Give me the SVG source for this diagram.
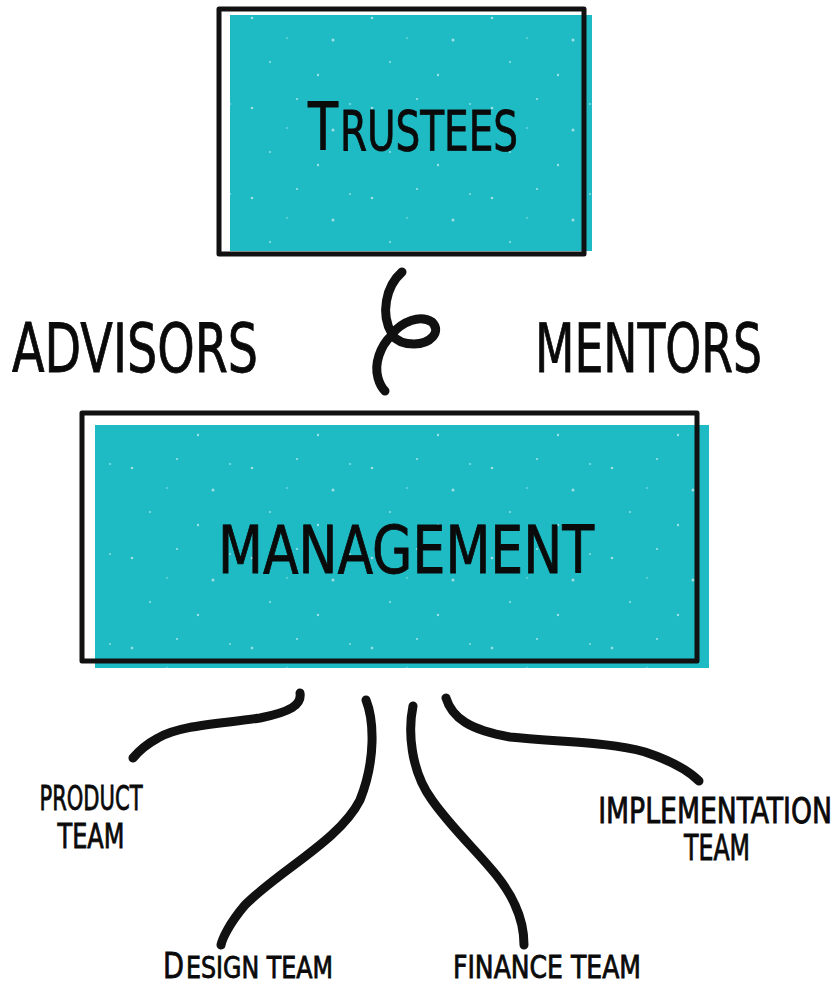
<svg xmlns="http://www.w3.org/2000/svg" width="839" height="986" viewBox="0 0 839 986">
<style>
.fill{fill:#1fbbc4}
.outline{fill:none;stroke:#111;stroke-width:5;stroke-linejoin:round}
.txt{font-family:"DejaVu Sans Condensed","Liberation Sans Narrow","Liberation Sans",sans-serif;fill:#0a0a0a;stroke:#0a0a0a;stroke-width:0.8}
.link{fill:none;stroke:#111;stroke-width:9;stroke-linecap:round}
.speck{fill:#fff;opacity:0.55}
</style>
<defs>
<pattern id="specks" width="120" height="90" patternUnits="userSpaceOnUse">
<circle class="speck" cx="12" cy="18" r="1.3"/>
<circle class="speck" cx="57" cy="9" r="1.1"/>
<circle class="speck" cx="93" cy="40" r="1.5"/>
<circle class="speck" cx="30" cy="62" r="1"/>
<circle class="speck" cx="78" cy="75" r="1.2"/>
<circle class="speck" cx="110" cy="14" r="0.9"/>
<circle class="speck" cx="47" cy="38" r="0.8"/>
</pattern>
</defs>
<rect width="839" height="986" fill="#fff"/>
<g id="trustees">
<rect class="fill" x="230" y="15" width="362" height="236"/>
<rect fill="url(#specks)" x="230" y="15" width="362" height="236"/>
<rect class="outline" x="219" y="9" width="365" height="245"/>
<text class="txt" x="308" y="150" font-size="66" textLength="30" lengthAdjust="spacingAndGlyphs">T</text>
<text class="txt" x="340" y="150" font-size="55" textLength="178" lengthAdjust="spacingAndGlyphs">RUSTEES</text>
</g>
<g id="advisors">
<text class="txt" x="12" y="372" font-size="68" textLength="246" lengthAdjust="spacingAndGlyphs">ADVISORS</text>
</g>
<g id="mentors">
<text class="txt" x="535" y="372" font-size="68" textLength="227" lengthAdjust="spacingAndGlyphs">MENTORS</text>
</g>
<g id="management">
<rect class="fill" x="95" y="425" width="614" height="243"/>
<rect fill="url(#specks)" x="95" y="425" width="614" height="243"/>
<rect class="outline" x="82" y="413" width="615" height="248"/>
<text class="txt" x="218" y="573" font-size="66" textLength="376" lengthAdjust="spacingAndGlyphs">MANAGEMENT</text>
</g>
<g id="product-team">
<text class="txt" x="91" y="810" font-size="34" text-anchor="middle" textLength="103" lengthAdjust="spacingAndGlyphs">PRODUCT</text>
<text class="txt" x="91" y="848" font-size="34" text-anchor="middle" textLength="67" lengthAdjust="spacingAndGlyphs">TEAM</text>
</g>
<g id="implementation-team">
<text class="txt" transform="translate(715,823) scale(0.82,1)" x="0" y="0" font-size="35" text-anchor="middle" textLength="285" lengthAdjust="spacingAndGlyphs">IMPLEMENTATION</text>
<text class="txt" x="717" y="860" font-size="35" text-anchor="middle" textLength="66" lengthAdjust="spacingAndGlyphs">TEAM</text>
</g>
<g id="design-team">
<text class="txt" transform="translate(163,978) scale(0.7,1)" x="0" y="0" font-size="36" textLength="30" lengthAdjust="spacingAndGlyphs">D</text>
<text class="txt" transform="translate(186,978) scale(0.7,1)" x="0" y="0" font-size="31" textLength="210" lengthAdjust="spacingAndGlyphs">ESIGN TEAM</text>
</g>
<g id="finance-team">
<text class="txt" transform="translate(453,978) scale(0.8,1)" x="0" y="0" font-size="32" textLength="235" lengthAdjust="spacingAndGlyphs">FINANCE TEAM</text>
</g>
<g id="connectors">
<path class="link" stroke-width="4.5" d="M402,272 C386,286 380,314 392,334 C402,322 420,314 432,322 C442,332 430,344 414,344 C402,344 395,339 392,335 C380,346 374,364 378,378 C380,385 383,389 385,391"/>
<path class="link" d="M300,693 C302,705 290,712 260,718 C220,724 180,725 158,738 C145,745 138,752 133,758"/>
<path class="link" d="M366,700 C374,720 376,760 360,800 C340,840 280,870 245,905 C228,925 222,940 221,945"/>
<path class="link" d="M413,706 C408,730 410,770 432,800 C460,840 500,870 515,905 C522,920 524,935 524,945"/>
<path class="link" d="M446,698 C452,718 470,730 510,737 C560,742 610,742 645,752 C675,762 690,772 699,781"/>
</g>
</svg>
